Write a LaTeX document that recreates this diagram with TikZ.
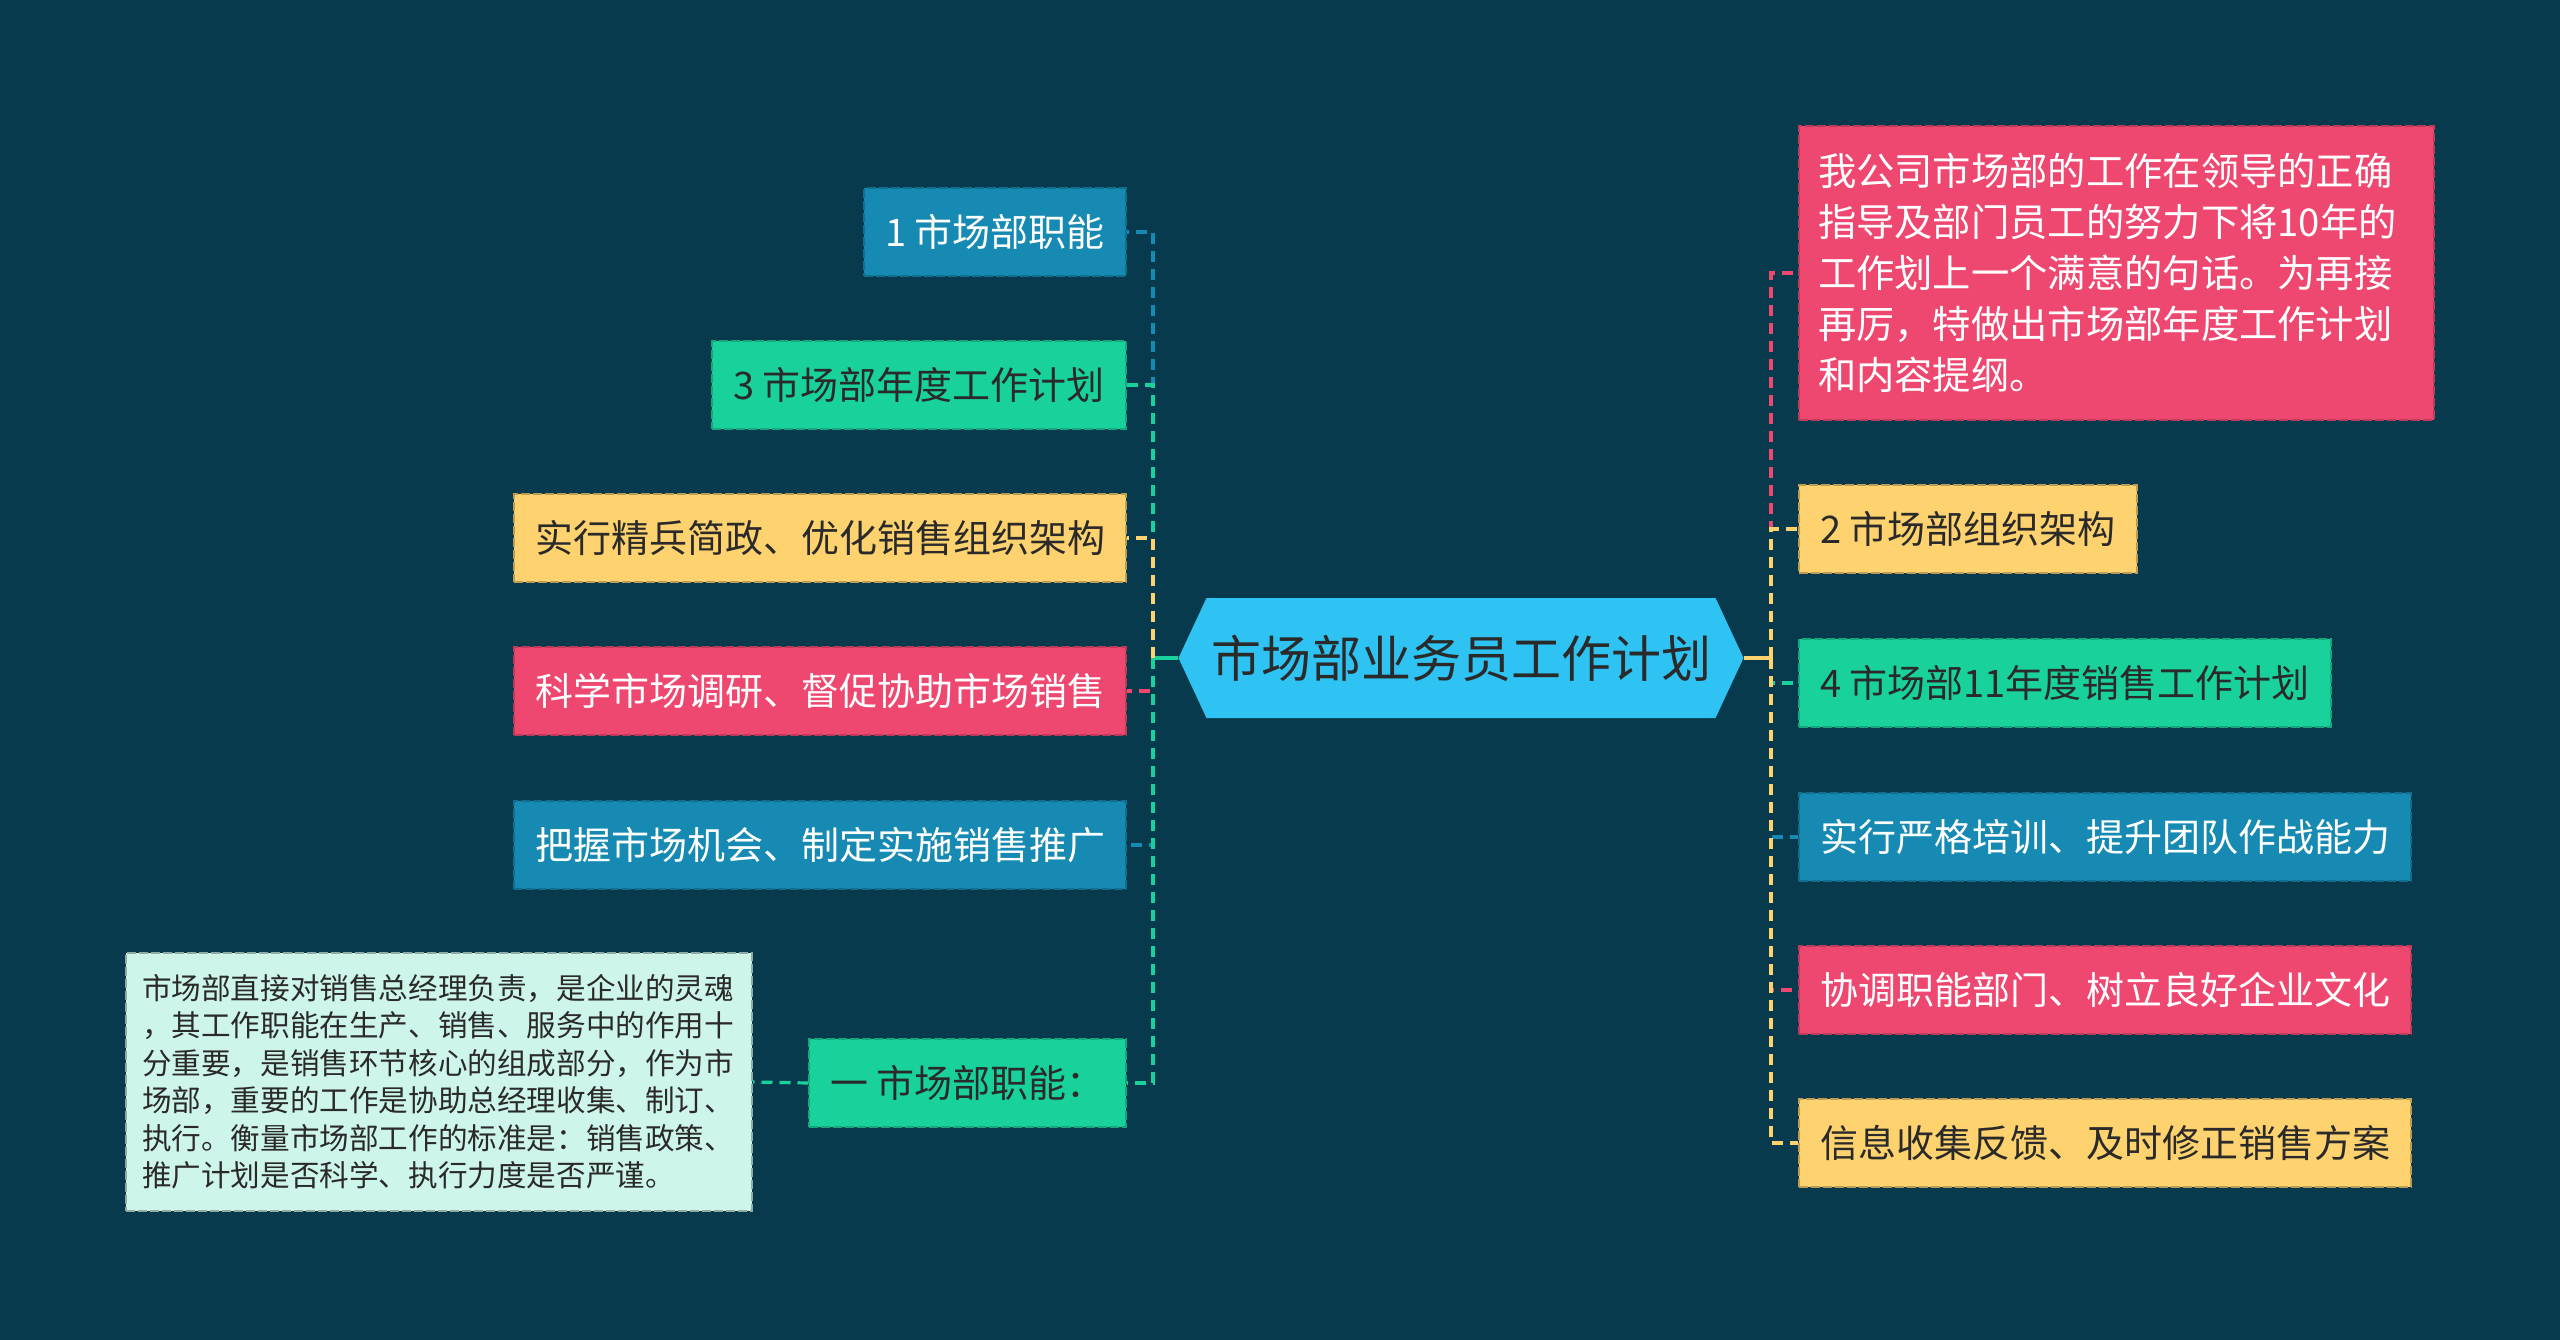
\documentclass[tikz,border=0pt]{standalone}
\usepackage{fontspec}
\setmainfont{Noto Sans CJK SC}
\usepackage{tikz}
\usetikzlibrary{shapes,shapes.symbols,positioning,calc}
\definecolor{bgteal}{RGB}{8,58,77}
\definecolor{mapblue}{RGB}{22,138,178}
\definecolor{mapgreen}{RGB}{25,210,155}
\definecolor{mapyellow}{RGB}{254,210,110}
\definecolor{mappink}{RGB}{238,72,112}
\definecolor{mapmint}{RGB}{206,245,234}
\definecolor{mapsky}{RGB}{46,195,242}
\definecolor{darktext}{RGB}{42,42,42}

\begin{document}
\begin{tikzpicture}[
    x=1pt, y=-1pt,
    hub/.style={shape=signal, signal to=west and east, signal pointer angle=130, fill=mapsky, text=darktext, minimum width=565pt, minimum height=120pt, inner xsep=0pt, font=\fontsize{50}{60}\selectfont},
    leaf/.style={rectangle, line width=2pt, dash pattern=on 9pt off 3pt, inner xsep=21pt, inner ysep=0pt, minimum height=88pt, font=\fontsize{38}{46}\selectfont},
    bluebox/.style={leaf, fill=mapblue, draw=mapblue!80!black, text=white},
    greenbox/.style={leaf, fill=mapgreen, draw=mapgreen!80!black, text=darktext},
    yellowbox/.style={leaf, fill=mapyellow, draw=mapyellow!75!black, text=darktext},
    pinkbox/.style={leaf, fill=mappink, draw=mappink!80!black, text=white},
    notebox/.style={rectangle, line width=2pt, dash pattern=on 9pt off 3pt, align=left, inner ysep=0pt},
    link/.style={line width=3.2pt, dash pattern=on 11pt off 7pt},
    stub/.style={line width=3.2pt}
]
\fill[bgteal] (0,0) rectangle (2560,1340);
\useasboundingbox (0,0) rectangle (2560,1340);

% Central topic
\node[hub] (plan) at (1461,658) {市场部业务员工作计划};
\coordinate (lhub) at (1153,658);
\coordinate (rhub) at (1771,658);

% Left branches
\node[bluebox, anchor=east] (duty) at (1127,232) {1 市场部职能};
\node[greenbox, anchor=east] (yearplan) at (1127,385) {3 市场部年度工作计划};
\node[yellowbox, anchor=east] (slim) at (1127,538) {实行精兵简政、优化销售组织架构};
\node[pinkbox, anchor=east] (survey) at (1127,691) {科学市场调研、督促协助市场销售};
\node[bluebox, anchor=east] (promo) at (1127,845) {把握市场机会、制定实施销售推广};
\node[greenbox, anchor=east] (dutyone) at (1127,1083) {一 市场部职能：};
\node[notebox, fill=mapmint, draw=mapmint!70!black, text=darktext, text width=594pt, inner xsep=16pt, minimum height=258pt, font=\fontsize{29.6}{37.5}\selectfont, anchor=east] (dutynote) at (753,1082)
    {市场部直接对销售总经理负责，是企业的灵魂\\，其工作职能在生产、销售、服务中的作用十\\分重要，是销售环节核心的组成部分，作为市\\场部，重要的工作是协助总经理收集、制订、\\执行。衡量市场部工作的标准是：销售政策、\\推广计划是否科学、执行力度是否严谨。};

% Right branches
\node[notebox, fill=mappink, draw=mappink!80!black, text=white, text width=597pt, inner xsep=19pt, minimum height=293pt, font=\fontsize{38.3}{51}\selectfont, anchor=west] (intro) at (1798,273)
    {我公司市场部的工作在领导的正确\\指导及部门员工的努力下将10年的\\工作划上一个满意的句话。为再接\\再厉，特做出市场部年度工作计划\\和内容提纲。};
\node[yellowbox, anchor=west] (org) at (1798,529) {2 市场部组织架构};
\node[greenbox, anchor=west] (salesplan) at (1798,683) {4 市场部11年度销售工作计划};
\node[bluebox, anchor=west] (training) at (1798,837) {实行严格培训、提升团队作战能力};
\node[pinkbox, anchor=west] (culture) at (1798,990) {协调职能部门、树立良好企业文化};
\node[yellowbox, anchor=west] (feedback) at (1798,1143) {信息收集反馈、及时修正销售方案};

% Connections
\draw[stub, mapgreen] (plan.west) -- (lhub);
\draw[stub, mapyellow] (plan.east) -- (rhub);

\draw[link, mapblue] (lhub) |- (duty.east);
\draw[link, mapgreen] (lhub) |- (yearplan.east);
\draw[link, mapyellow] (lhub) |- (slim.east);
\draw[link, mappink] (lhub) |- (survey.east);
\draw[link, mapblue] (lhub) |- (promo.east);
\draw[link, mapgreen] (lhub) |- (dutyone.east);
\draw[link, mapgreen] (dutyone.west) -- (dutynote.east);

\draw[link, mappink] (rhub) |- (intro.west);
\draw[link, mapyellow] (rhub) |- (org.west);
\draw[link, mapgreen] (rhub) |- (salesplan.west);
\draw[link, mapblue] (rhub) |- (training.west);
\draw[link, mappink] (rhub) |- (culture.west);
\draw[link, mapyellow] (rhub) |- (feedback.west);

\end{tikzpicture}
\end{document}
